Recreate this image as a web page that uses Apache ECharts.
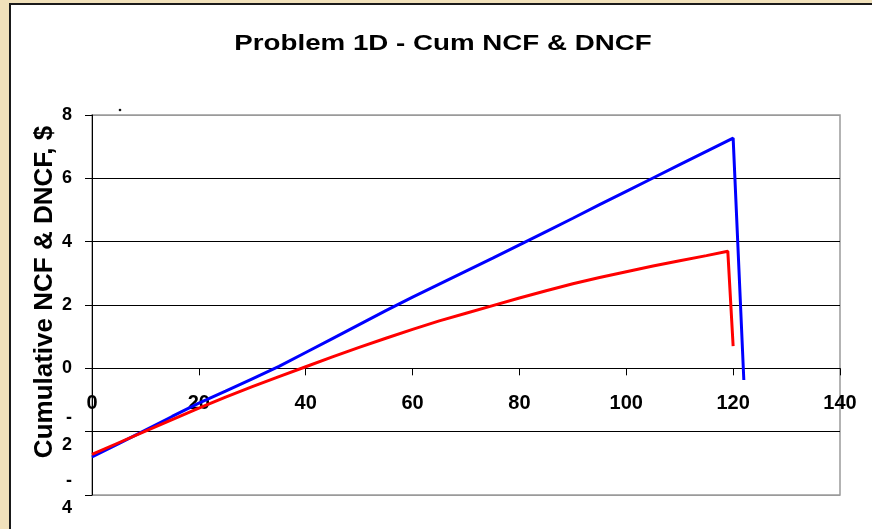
<!DOCTYPE html>
<html>
<head>
<meta charset="utf-8">
<script src="https://cdn.jsdelivr.net/npm/echarts@6/dist/echarts.min.js"></script>
<style>
html,body{margin:0;padding:0;background:#F1E1BB;}
#c{width:872px;height:529px;}
</style>
</head>
<body>
<div id="c"></div>
<script>
// Data
const titleText = "Problem 1D - Cum NCF & DNCF";
const yAxisName = "Cumulative NCF & DNCF, $";
const xTicks = [0, 20, 40, 60, 80, 100, 120, 140];
const yTicks = [-4, -2, 0, 2, 4, 6, 8];

// Cumulative NCF (blue)
const ncfX = [0, 5, 10, 15, 20, 25, 30, 35, 40, 45, 50, 55, 60, 65, 70, 75, 80, 85, 90, 95, 100, 105, 110, 115, 120, 122];
const ncfY = [-2.8, -2.38, -1.95, -1.52, -1.1, -0.72, -0.33, 0.06, 0.5, 0.94, 1.38, 1.82, 2.25, 2.66, 3.07, 3.48, 3.9, 4.32, 4.74, 5.17, 5.59, 6.01, 6.43, 6.85, 7.27, -0.37];

// Cumulative DNCF (red)
const dncfX = [0, 5, 10, 15, 20, 25, 30, 35, 40, 45, 50, 55, 60, 65, 70, 75, 80, 85, 90, 95, 100, 105, 110, 115, 119, 120];
const dncfY = [-2.72, -2.35, -1.98, -1.62, -1.26, -0.91, -0.58, -0.26, 0.05, 0.36, 0.66, 0.95, 1.23, 1.5, 1.74, 1.98, 2.22, 2.45, 2.67, 2.87, 3.05, 3.23, 3.4, 3.56, 3.7, 0.7];

const pair = (xs, ys) => xs.map((x, i) => [x, ys[i]]);
const FONT = "'Liberation Sans', Arial, sans-serif";

const chart = echarts.init(document.getElementById('c'), null, {renderer: 'canvas'});
chart.setOption({
  animation: false,
  backgroundColor: '#F1E1BB',
  graphic: [
    {type: 'rect', z: -10, shape: {x: 10, y: 4, width: 900, height: 600},
     style: {fill: '#ffffff', stroke: '#1a1a1a', lineWidth: 2}},
    {type: 'text', x: 443, y: 44, scaleX: 1.26, z: 10,
     style: {text: titleText, fill: '#000', font: "bold 22px " + FONT, textAlign: 'center', textVerticalAlign: 'middle'}},
    {type: 'text', x: 45, y: 292, rotation: Math.PI / 2, z: 10,
     style: {text: yAxisName, fill: '#000', font: "bold 26px " + FONT, textAlign: 'center', textVerticalAlign: 'middle'}},
    {type: 'circle', shape: {cx: 120, cy: 110, r: 1.3}, style: {fill: '#111'}}
  ],
  grid: {left: 92, top: 115, width: 748, height: 380, show: true, borderColor: '#9a9a9a', borderWidth: 1.5,
         backgroundColor: 'transparent', containLabel: false, outerBoundsMode: 'none'},
  xAxis: {
    type: 'value', min: xTicks[0], max: xTicks[xTicks.length - 1], interval: 20,
    axisLine: {show: true, onZero: true, lineStyle: {color: '#000', width: 1}},
    axisTick: {show: true, length: 7, inside: false, lineStyle: {color: '#000'}},
    axisLabel: {margin: -102, color: '#000', fontWeight: 'bold', fontSize: 20, fontFamily: FONT, showMinLabel: true, showMaxLabel: true, hideOverlap: false},
    splitLine: {show: false}
  },
  yAxis: {
    type: 'value', min: yTicks[0], max: yTicks[yTicks.length - 1], interval: 2,
    axisLine: {show: true, onZero: false, lineStyle: {color: '#000', width: 1}},
    axisTick: {show: true, length: 7, lineStyle: {color: '#000'}},
    axisLabel: {margin: 20, color: '#000', fontWeight: 'bold', fontSize: 18, fontFamily: FONT, lineHeight: 27,
      formatter: v => v < 0 ? '-\n' + Math.abs(v) : String(v)},
    splitLine: {show: true, lineStyle: {color: ['#9a9a9a', '#000', '#000', '#000', '#000', '#000', '#9a9a9a'], width: 1}}
  },
  series: [
    {name: 'Cum NCF', type: 'line', data: pair(ncfX, ncfY), showSymbol: false, symbol: 'none',
     lineStyle: {color: '#0000FF', width: 3}, itemStyle: {color: '#0000FF'}, z: 3},
    {name: 'Cum DNCF', type: 'line', data: pair(dncfX, dncfY), showSymbol: false, symbol: 'none',
     lineStyle: {color: '#FF0000', width: 3}, itemStyle: {color: '#FF0000'}, z: 4}
  ]
});
</script>
</body>
</html>
